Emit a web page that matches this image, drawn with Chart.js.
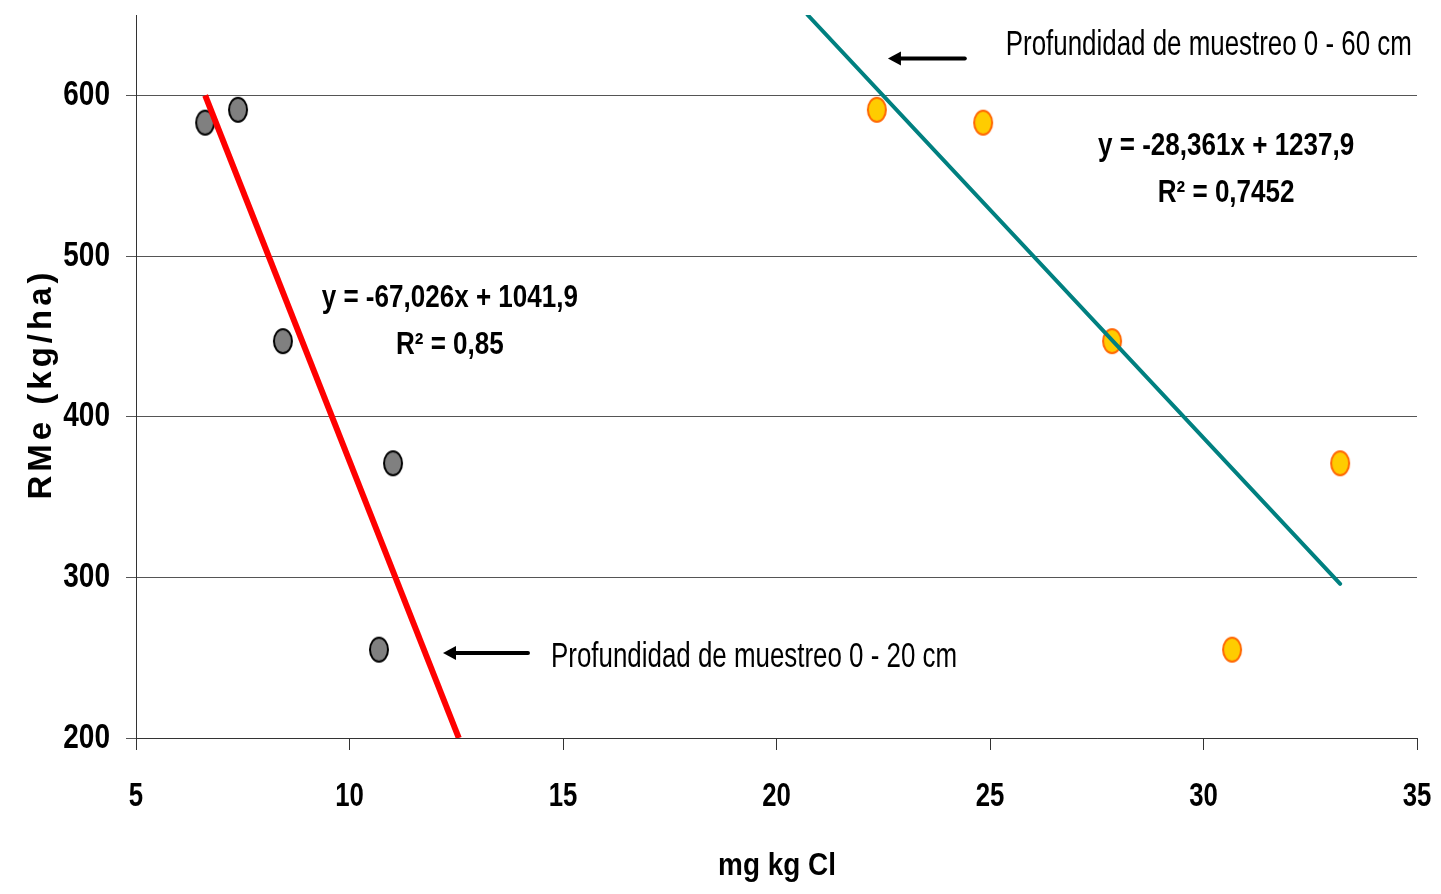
<!DOCTYPE html>
<html>
<head>
<meta charset="utf-8">
<script src="https://cdn.jsdelivr.net/npm/chart.js@4"></script>
<style>
  html, body { margin: 0; padding: 0; background: #fff; }
  #wrap { width: 1441px; height: 894px; }
</style>
</head>
<body>
<div id="wrap"><canvas id="chart" width="1441" height="894"></canvas></div>
<script>
// valores
const x20 = [6.62, 7.39, 8.44, 11.02, 10.69];
const y20 = [583, 591, 447, 371, 255];
const x60 = [22.35, 24.84, 27.86, 33.2, 30.67];
const y60 = [591, 583, 447, 371, 255];
const trend20 = [{x: 6.62, y: 600}, {x: 12.56, y: 200}];
const trend60 = [{x: 20.73, y: 650}, {x: 33.2, y: 296}];
const xTicks = [5, 10, 15, 20, 25, 30, 35];
const yTicks = [200, 300, 400, 500, 600];

const eq20 = ['y = -67,026x + 1041,9', 'R² = 0,85'];
const eq60 = ['y = -28,361x + 1237,9', 'R² = 0,7452'];
const label20 = 'Profundidad de muestreo 0 - 20 cm';
const label60 = 'Profundidad de muestreo 0 - 60 cm';

const SANS = '"Liberation Sans", Arial, sans-serif';

function ellipse(fill, stroke) {
    let c = document.createElement('canvas');
    c.width = 22; c.height = 28;
    let g = c.getContext('2d');
    g.beginPath();
    g.ellipse(11, 14, 9, 12, 0, 0, Math.PI * 2);
    g.fillStyle = fill;
    g.fill();
    g.lineWidth = 2;
    g.strokeStyle = stroke;
    g.stroke();
    return c;
}

function pts(xs, ys) {
    return xs.map((v, i) => ({x: v, y: ys[i]}));
}

// texto estrecho (no hay Arial Narrow): se comprime en horizontal
function narrowText(ctx, text, x, y, font, align, k) {
    ctx.save();
    ctx.font = font;
    ctx.textAlign = align;
    ctx.textBaseline = 'middle';
    ctx.translate(x, y);
    ctx.scale(k, 1);
    ctx.fillText(text, 0, 0);
    ctx.restore();
}

const textPlugin = {
    id: 'texts',
    afterDraw(chart) {
        let ctx = chart.ctx;
        let sx = chart.scales.x, sy = chart.scales.y;
        ctx.save();
        ctx.fillStyle = '#000';

        // etiquetas de los ejes
        sy.ticks.forEach(t => {
            narrowText(ctx, String(t.value), 110, sy.getPixelForValue(t.value),
                'bold 35px ' + SANS, 'right', 0.8);
        });
        sx.ticks.forEach(t => {
            narrowText(ctx, String(t.value), sx.getPixelForValue(t.value), 797,
                'bold 33px ' + SANS, 'center', 0.78);
        });

        // ecuaciones
        let bf = 'bold 31px ' + SANS;
        narrowText(ctx, eq20[0], sx.getPixelForValue(12.35), sy.getPixelForValue(473.7), bf, 'center', 0.84);
        narrowText(ctx, eq20[1], sx.getPixelForValue(12.35), sy.getPixelForValue(444.5), bf, 'center', 0.84);
        narrowText(ctx, eq60[0], sx.getPixelForValue(30.53), sy.getPixelForValue(568.3), bf, 'center', 0.84);
        narrowText(ctx, eq60[1], sx.getPixelForValue(30.53), sy.getPixelForValue(539.0), bf, 'center', 0.84);

        // etiquetas de profundidad
        let rf = '35px ' + SANS;
        narrowText(ctx, label20, sx.getPixelForValue(14.72), sy.getPixelForValue(250.4), rf, 'left', 0.74);
        narrowText(ctx, label60, sx.getPixelForValue(25.37), sy.getPixelForValue(631.1), rf, 'left', 0.74);

        // flechas
        function arrow(x1, x2, yv) {
            let px1 = sx.getPixelForValue(x1), px2 = sx.getPixelForValue(x2);
            let py = sy.getPixelForValue(yv);
            ctx.beginPath();
            ctx.lineWidth = 4;
            ctx.lineCap = 'round';
            ctx.strokeStyle = '#000';
            ctx.moveTo(px2, py);
            ctx.lineTo(px1 + 8, py);
            ctx.stroke();
            ctx.beginPath();
            ctx.moveTo(px1, py);
            ctx.lineTo(px1 + 13, py - 7);
            ctx.lineTo(px1 + 13, py + 7);
            ctx.closePath();
            ctx.fill();
        }
        arrow(12.19, 14.18, 252.9);
        arrow(22.61, 24.41, 623);

        // titulos de ejes
        narrowText(ctx, 'mg kg Cl', 777, 866, 'bold 31px ' + SANS, 'center', 0.9);

        ctx.translate(42, 384);
        ctx.rotate(-Math.PI / 2);
        ctx.font = 'bold 33px ' + SANS;
        ctx.textAlign = 'center';
        ctx.textBaseline = 'middle';
        ctx.letterSpacing = '4px';
        ctx.fillText('RMe (kg/ha)', 0, 0);
        ctx.restore();
    }
};

new Chart(document.getElementById('chart'), {
    type: 'scatter',
    data: {
        datasets: [
            {
                data: trend20,
                showLine: true,
                borderColor: '#ff0000',
                borderWidth: 6,
                pointRadius: 0,
                borderCapStyle: 'butt'
            },
            {
                data: trend60,
                showLine: true,
                borderColor: '#008080',
                borderWidth: 4,
                pointRadius: 0,
                borderCapStyle: 'round'
            },
            {
                data: pts(x20, y20),
                pointStyle: ellipse('#808080', '#000000')
            },
            {
                data: pts(x60, y60),
                pointStyle: ellipse('#ffcc00', '#ff6600')
            }
        ]
    },
    options: {
        responsive: false,
        animation: false,
        layout: { padding: { top: 15, right: 24, left: 0, bottom: 0 } },
        plugins: { legend: { display: false }, tooltip: { enabled: false } },
        scales: {
            x: {
                type: 'linear',
                min: 5,
                max: 35,
                afterBuildTicks: s => { s.ticks = xTicks.map(v => ({value: v})); },
                afterFit: s => { s.height = 156; },
                grid: { drawOnChartArea: false, tickLength: 12, color: '#333', lineWidth: 1 },
                border: { color: '#333', width: 1 },
                ticks: { display: false }
            },
            y: {
                min: 200,
                max: 650,
                afterBuildTicks: s => { s.ticks = yTicks.map(v => ({value: v})); },
                afterFit: s => { s.width = 136; },
                grid: { tickLength: 10, color: '#555', lineWidth: 1 },
                border: { color: '#333', width: 1 },
                ticks: { display: false }
            }
        }
    },
    plugins: [textPlugin]
});
</script>
</body>
</html>
